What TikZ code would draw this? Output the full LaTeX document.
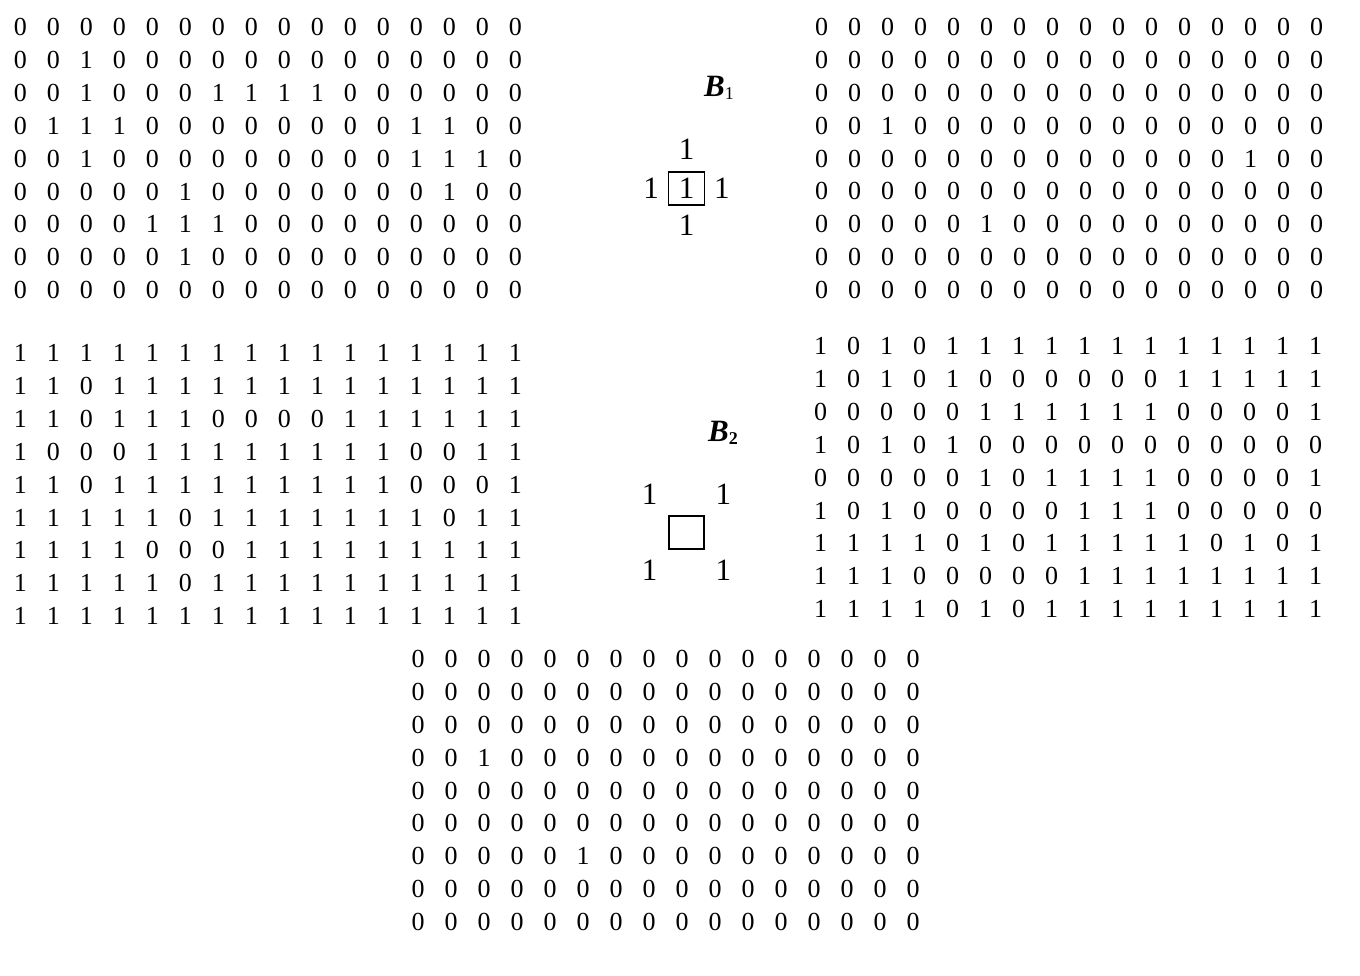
\documentclass[tikz,border=0pt]{standalone}
\usepackage{fontspec}
\setmainfont{Liberation Serif}
\usetikzlibrary{positioning,matrix}

\newcommand{\bitfont}{\fontsize{26}{26}\selectfont}
\newcommand{\sefont}{\fontsize{31}{31}\selectfont}

\begin{document}
\begin{tikzpicture}[
    x=1pt, y=-1pt,
    cell/.style={minimum width=33pt, minimum height=32.9pt, inner sep=0pt, font=\bitfont},
    bitgrid/.style={matrix of nodes, nodes={cell}, column sep=0pt, row sep=0pt},
    secell/.style={minimum width=33pt, minimum height=33pt, inner sep=0pt, font=\sefont},
    sebox/.style={draw, line width=1.5pt, minimum width=36pt, minimum height=33pt, inner sep=0pt, font=\sefont},
    selabel/.style={inner sep=0pt, font=\sefont}
]
\useasboundingbox (0,0) rectangle (1360,975);

% original image A
\matrix (imgA) [bitgrid] at (268,158.5) {
0 & 0 & 0 & 0 & 0 & 0 & 0 & 0 & 0 & 0 & 0 & 0 & 0 & 0 & 0 & 0 \\
0 & 0 & 1 & 0 & 0 & 0 & 0 & 0 & 0 & 0 & 0 & 0 & 0 & 0 & 0 & 0 \\
0 & 0 & 1 & 0 & 0 & 0 & 1 & 1 & 1 & 1 & 0 & 0 & 0 & 0 & 0 & 0 \\
0 & 1 & 1 & 1 & 0 & 0 & 0 & 0 & 0 & 0 & 0 & 0 & 1 & 1 & 0 & 0 \\
0 & 0 & 1 & 0 & 0 & 0 & 0 & 0 & 0 & 0 & 0 & 0 & 1 & 1 & 1 & 0 \\
0 & 0 & 0 & 0 & 0 & 1 & 0 & 0 & 0 & 0 & 0 & 0 & 0 & 1 & 0 & 0 \\
0 & 0 & 0 & 0 & 1 & 1 & 1 & 0 & 0 & 0 & 0 & 0 & 0 & 0 & 0 & 0 \\
0 & 0 & 0 & 0 & 0 & 1 & 0 & 0 & 0 & 0 & 0 & 0 & 0 & 0 & 0 & 0 \\
0 & 0 & 0 & 0 & 0 & 0 & 0 & 0 & 0 & 0 & 0 & 0 & 0 & 0 & 0 & 0 \\
};

% erosion of A by B1
\matrix (eroA) [bitgrid] at (1069,158.5) {
0 & 0 & 0 & 0 & 0 & 0 & 0 & 0 & 0 & 0 & 0 & 0 & 0 & 0 & 0 & 0 \\
0 & 0 & 0 & 0 & 0 & 0 & 0 & 0 & 0 & 0 & 0 & 0 & 0 & 0 & 0 & 0 \\
0 & 0 & 0 & 0 & 0 & 0 & 0 & 0 & 0 & 0 & 0 & 0 & 0 & 0 & 0 & 0 \\
0 & 0 & 1 & 0 & 0 & 0 & 0 & 0 & 0 & 0 & 0 & 0 & 0 & 0 & 0 & 0 \\
0 & 0 & 0 & 0 & 0 & 0 & 0 & 0 & 0 & 0 & 0 & 0 & 0 & 1 & 0 & 0 \\
0 & 0 & 0 & 0 & 0 & 0 & 0 & 0 & 0 & 0 & 0 & 0 & 0 & 0 & 0 & 0 \\
0 & 0 & 0 & 0 & 0 & 1 & 0 & 0 & 0 & 0 & 0 & 0 & 0 & 0 & 0 & 0 \\
0 & 0 & 0 & 0 & 0 & 0 & 0 & 0 & 0 & 0 & 0 & 0 & 0 & 0 & 0 & 0 \\
0 & 0 & 0 & 0 & 0 & 0 & 0 & 0 & 0 & 0 & 0 & 0 & 0 & 0 & 0 & 0 \\
};

% complement of A
\matrix (cmpA) [bitgrid] at (268,484.5) {
1 & 1 & 1 & 1 & 1 & 1 & 1 & 1 & 1 & 1 & 1 & 1 & 1 & 1 & 1 & 1 \\
1 & 1 & 0 & 1 & 1 & 1 & 1 & 1 & 1 & 1 & 1 & 1 & 1 & 1 & 1 & 1 \\
1 & 1 & 0 & 1 & 1 & 1 & 0 & 0 & 0 & 0 & 1 & 1 & 1 & 1 & 1 & 1 \\
1 & 0 & 0 & 0 & 1 & 1 & 1 & 1 & 1 & 1 & 1 & 1 & 0 & 0 & 1 & 1 \\
1 & 1 & 0 & 1 & 1 & 1 & 1 & 1 & 1 & 1 & 1 & 1 & 0 & 0 & 0 & 1 \\
1 & 1 & 1 & 1 & 1 & 0 & 1 & 1 & 1 & 1 & 1 & 1 & 1 & 0 & 1 & 1 \\
1 & 1 & 1 & 1 & 0 & 0 & 0 & 1 & 1 & 1 & 1 & 1 & 1 & 1 & 1 & 1 \\
1 & 1 & 1 & 1 & 1 & 0 & 1 & 1 & 1 & 1 & 1 & 1 & 1 & 1 & 1 & 1 \\
1 & 1 & 1 & 1 & 1 & 1 & 1 & 1 & 1 & 1 & 1 & 1 & 1 & 1 & 1 & 1 \\
};

% erosion of the complement by B2
\matrix (eroC) [bitgrid] at (1068,477.5) {
1 & 0 & 1 & 0 & 1 & 1 & 1 & 1 & 1 & 1 & 1 & 1 & 1 & 1 & 1 & 1 \\
1 & 0 & 1 & 0 & 1 & 0 & 0 & 0 & 0 & 0 & 0 & 1 & 1 & 1 & 1 & 1 \\
0 & 0 & 0 & 0 & 0 & 1 & 1 & 1 & 1 & 1 & 1 & 0 & 0 & 0 & 0 & 1 \\
1 & 0 & 1 & 0 & 1 & 0 & 0 & 0 & 0 & 0 & 0 & 0 & 0 & 0 & 0 & 0 \\
0 & 0 & 0 & 0 & 0 & 1 & 0 & 1 & 1 & 1 & 1 & 0 & 0 & 0 & 0 & 1 \\
1 & 0 & 1 & 0 & 0 & 0 & 0 & 0 & 1 & 1 & 1 & 0 & 0 & 0 & 0 & 0 \\
1 & 1 & 1 & 1 & 0 & 1 & 0 & 1 & 1 & 1 & 1 & 1 & 0 & 1 & 0 & 1 \\
1 & 1 & 1 & 0 & 0 & 0 & 0 & 0 & 1 & 1 & 1 & 1 & 1 & 1 & 1 & 1 \\
1 & 1 & 1 & 1 & 0 & 1 & 0 & 1 & 1 & 1 & 1 & 1 & 1 & 1 & 1 & 1 \\
};

% hit-or-miss result
\matrix (hmt) [bitgrid] at (665.5,790.5) {
0 & 0 & 0 & 0 & 0 & 0 & 0 & 0 & 0 & 0 & 0 & 0 & 0 & 0 & 0 & 0 \\
0 & 0 & 0 & 0 & 0 & 0 & 0 & 0 & 0 & 0 & 0 & 0 & 0 & 0 & 0 & 0 \\
0 & 0 & 0 & 0 & 0 & 0 & 0 & 0 & 0 & 0 & 0 & 0 & 0 & 0 & 0 & 0 \\
0 & 0 & 1 & 0 & 0 & 0 & 0 & 0 & 0 & 0 & 0 & 0 & 0 & 0 & 0 & 0 \\
0 & 0 & 0 & 0 & 0 & 0 & 0 & 0 & 0 & 0 & 0 & 0 & 0 & 0 & 0 & 0 \\
0 & 0 & 0 & 0 & 0 & 0 & 0 & 0 & 0 & 0 & 0 & 0 & 0 & 0 & 0 & 0 \\
0 & 0 & 0 & 0 & 0 & 1 & 0 & 0 & 0 & 0 & 0 & 0 & 0 & 0 & 0 & 0 \\
0 & 0 & 0 & 0 & 0 & 0 & 0 & 0 & 0 & 0 & 0 & 0 & 0 & 0 & 0 & 0 \\
0 & 0 & 0 & 0 & 0 & 0 & 0 & 0 & 0 & 0 & 0 & 0 & 0 & 0 & 0 & 0 \\
};

% structuring element B1
\node[selabel] (labB1) at (719,88) {\textbf{\textit{B}}\raisebox{-0.25ex}{\fontsize{18}{18}\selectfont 1}};
\node[sebox] (b1c) at (686.5,188.5) {1};
\node[secell, above=5pt of b1c] (b1n) {1};
\node[secell, below=3pt of b1c] (b1s) {1};
\node[secell, left=0pt of b1c] (b1w) {1};
\node[secell, right=0pt of b1c] (b1e) {1};

% structuring element B2
\node[selabel] (labB2) at (723,433) {\textbf{\textit{B}}\raisebox{-0.25ex}{\fontsize{18}{18}\selectfont\bfseries 2}};
\node[sebox, minimum width=35pt] (b2c) at (686.5,532.5) {};
\node[secell, above left=4pt and 2pt of b2c] (b2nw) {1};
\node[secell, above right=4pt and 2pt of b2c] (b2ne) {1};
\node[secell, below left=4pt and 2pt of b2c] (b2sw) {1};
\node[secell, below right=4pt and 2pt of b2c] (b2se) {1};
\end{tikzpicture}
\end{document}
